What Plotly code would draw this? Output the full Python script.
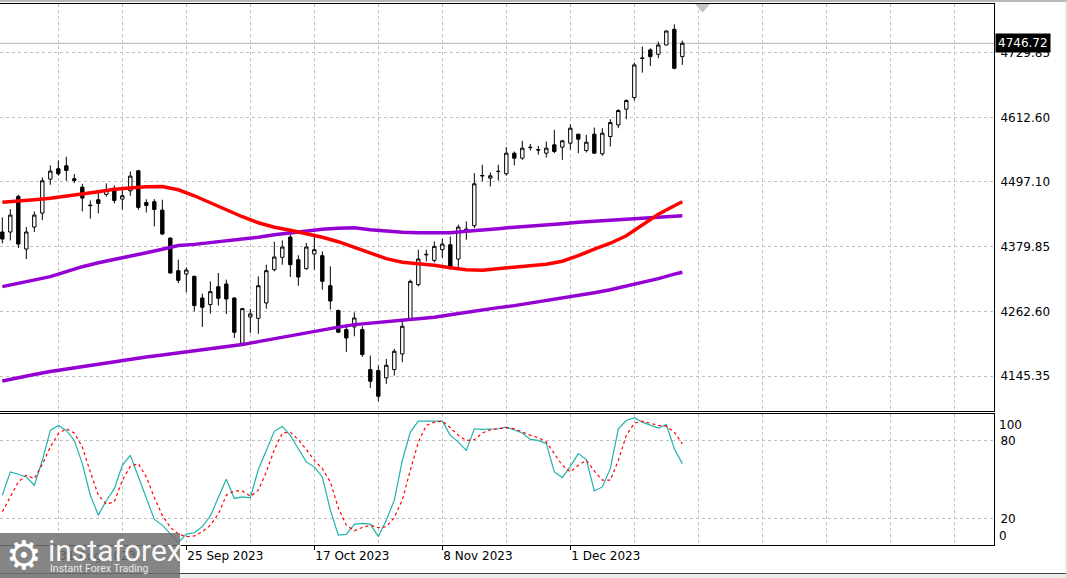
import datetime
import plotly.graph_objects as go

# ---------------- data ----------------
dates = [
    "2023-08-22", "2023-08-23", "2023-08-24", "2023-08-25", "2023-08-28", "2023-08-29", "2023-08-30", "2023-08-31",
    "2023-09-01", "2023-09-05", "2023-09-06", "2023-09-07", "2023-09-08", "2023-09-11", "2023-09-12", "2023-09-13",
    "2023-09-14", "2023-09-15", "2023-09-18", "2023-09-19", "2023-09-20", "2023-09-21", "2023-09-22", "2023-09-25",
    "2023-09-26", "2023-09-27", "2023-09-28", "2023-09-29",
    "2023-10-02", "2023-10-03", "2023-10-04", "2023-10-05", "2023-10-06", "2023-10-09", "2023-10-10", "2023-10-11",
    "2023-10-12", "2023-10-13", "2023-10-16", "2023-10-17", "2023-10-18", "2023-10-19", "2023-10-20", "2023-10-23",
    "2023-10-24", "2023-10-25", "2023-10-26", "2023-10-27", "2023-10-30", "2023-10-31",
    "2023-11-01", "2023-11-02", "2023-11-03", "2023-11-06", "2023-11-07", "2023-11-08", "2023-11-09", "2023-11-10",
    "2023-11-13", "2023-11-14", "2023-11-15", "2023-11-16", "2023-11-17", "2023-11-20", "2023-11-21", "2023-11-22",
    "2023-11-24", "2023-11-27", "2023-11-28", "2023-11-29", "2023-11-30",
    "2023-12-01", "2023-12-04", "2023-12-05", "2023-12-06", "2023-12-07", "2023-12-08", "2023-12-11", "2023-12-12",
    "2023-12-13", "2023-12-14", "2023-12-15", "2023-12-18", "2023-12-19", "2023-12-20", "2023-12-21",
]

opens = [
    4405.8, 4405.8, 4470.1, 4375.1, 4414.8, 4440.0, 4501.4, 4520.0,
    4525.4, 4502.0, 4486.9, 4454.5, 4464.1, 4473.7, 4482.7, 4465.3, 4480.3, 4516.4,
    4459.2, 4460.5, 4445.4, 4394.9, 4336.0, 4330.0, 4325.8, 4286.7, 4274.7, 4307.1,
    4312.0, 4286.7, 4205.0, 4252.4, 4250.0, 4277.7, 4337.8, 4360.1, 4396.7, 4355.8,
    4339.6, 4366.1, 4363.1, 4308.9, 4264.0, 4229.6, 4234.4, 4229.6, 4157.4, 4155.6,
    4142.4, 4157.4, 4185.7, 4249.4, 4310.7, 4364.5, 4354.6, 4373.9, 4382.9, 4357.0,
    4406.9, 4417.2, 4507.0, 4503.2, 4515.0, 4511.0, 4548.2, 4539.2, 4558.2, 4554.6,
    4548.2, 4563.2, 4559.0, 4566.3, 4582.5, 4553.0, 4582.5, 4547.0, 4578.3, 4599.3,
    4627.6, 4648.6, 4719.2, 4734.6, 4726.8, 4743.6, 4771.9, 4722.6,
]
highs = [
    4432.2, 4447.2, 4473.1, 4414.8, 4443.0, 4504.4, 4526.0, 4535.0,
    4541.7, 4510.4, 4492.9, 4462.9, 4477.3, 4493.6, 4489.9, 4480.9, 4515.2, 4518.2,
    4465.0, 4465.3, 4464.1, 4395.5, 4355.9, 4342.0, 4327.0, 4294.5, 4316.8, 4331.8,
    4319.8, 4287.9, 4268.7, 4266.9, 4325.8, 4346.8, 4388.3, 4390.7, 4404.0, 4363.7,
    4385.9, 4397.9, 4370.9, 4343.8, 4265.6, 4238.6, 4260.8, 4235.6, 4182.7, 4164.6,
    4176.6, 4194.7, 4245.8, 4319.8, 4373.9, 4373.9, 4388.9, 4393.7, 4397.9, 4419.0,
    4425.0, 4512.2, 4527.2, 4513.4, 4527.2, 4559.1, 4551.2, 4570.5, 4565.0, 4561.4,
    4569.2, 4590.3, 4572.2, 4600.5, 4583.0, 4581.3, 4594.5, 4593.3, 4609.5, 4627.6,
    4645.6, 4711.8, 4740.6, 4737.6, 4749.6, 4769.5, 4780.9, 4751.4,
]
lows = [
    4385.3, 4390.7, 4376.9, 4357.1, 4405.8, 4427.4, 4491.1, 4507.4,
    4498.4, 4494.2, 4443.0, 4429.8, 4439.4, 4469.5, 4457.5, 4446.6, 4471.3, 4446.0,
    4441.0, 4416.0, 4400.3, 4330.6, 4313.8, 4296.9, 4262.6, 4234.4, 4258.4, 4272.9,
    4257.8, 4214.5, 4203.0, 4223.6, 4222.0, 4267.5, 4334.8, 4346.8, 4324.6, 4308.9,
    4337.8, 4337.8, 4301.7, 4265.6, 4223.6, 4189.3, 4217.5, 4180.3, 4124.3, 4100.3,
    4131.5, 4146.6, 4170.6, 4247.6, 4307.7, 4352.8, 4351.0, 4358.8, 4337.8, 4340.8,
    4391.9, 4413.0, 4497.1, 4488.1, 4498.9, 4507.4, 4526.0, 4536.2, 4553.0, 4545.2,
    4540.4, 4548.2, 4536.2, 4554.3, 4548.2, 4549.4, 4547.5, 4543.4, 4560.3, 4593.3,
    4609.5, 4643.2, 4693.7, 4705.7, 4719.6, 4743.0, 4699.8, 4707.6,
]
closes = [
    4393.1, 4436.4, 4384.1, 4405.8, 4436.4, 4498.4, 4515.8, 4511.0,
    4517.0, 4499.0, 4467.1, 4453.5, 4457.5, 4480.9, 4462.9, 4471.3, 4506.8, 4450.3,
    4453.8, 4446.6, 4402.2, 4331.8, 4318.6, 4337.2, 4272.9, 4269.9, 4298.1, 4286.1,
    4284.9, 4224.8, 4267.5, 4257.8, 4308.9, 4336.0, 4360.7, 4378.7, 4346.8, 4324.6,
    4378.7, 4373.9, 4316.8, 4281.3, 4225.0, 4214.5, 4250.6, 4184.5, 4136.4, 4109.3,
    4165.2, 4190.5, 4235.6, 4316.7, 4357.0, 4365.5, 4379.9, 4384.1, 4343.8, 4414.8,
    4411.2, 4492.9, 4507.8, 4507.4, 4515.4, 4548.2, 4539.2, 4557.2, 4558.8, 4554.0,
    4557.2, 4551.2, 4570.5, 4593.3, 4573.5, 4568.0, 4548.2, 4584.3, 4603.5, 4625.2,
    4643.3, 4707.6, 4720.0, 4722.6, 4743.6, 4768.9, 4701.5, 4746.72,
]

# moving averages, read every second bar (plus the last bar)
ma_red = [
    4459.6, 4461.4, 4464.1, 4466.8, 4470.4, 4474.0, 4478.5, 4483.0, 4485.7, 4487.5, 4488.1,
    4482.1, 4471.3, 4458.7, 4446.1, 4433.4, 4422.6, 4414.5, 4409.1, 4402.8, 4396.4, 4388.3,
    4378.4, 4367.6, 4357.7, 4351.3, 4348.6, 4345.9, 4341.4, 4337.8, 4336.9, 4339.6, 4343.2,
    4345.0, 4347.7, 4353.1, 4363.0, 4374.8, 4385.6, 4399.1, 4419.0, 4437.9, 4453.3, 4460.5,
]
ma_purple_fast = [
    4307.2, 4313.5, 4319.8, 4325.2, 4334.2, 4343.2, 4350.4, 4355.9, 4362.2, 4368.5, 4374.8,
    4381.5, 4383.5, 4386.5, 4389.2, 4392.3, 4396.4, 4400.9, 4404.6, 4408.2, 4410.9, 4412.7,
    4413.6, 4410.0, 4407.3, 4405.5, 4404.6, 4404.0, 4404.6, 4407.3, 4409.1, 4411.8, 4414.5,
    4416.3, 4419.0, 4420.8, 4423.5, 4425.3, 4427.1, 4428.9, 4429.8, 4431.6, 4434.3, 4435.2,
]
ma_purple_slow = [
    4136.7, 4143.0, 4148.4, 4153.8, 4158.3, 4161.9, 4166.5, 4171.9, 4176.4, 4180.0, 4183.6,
    4187.2, 4190.8, 4194.4, 4198.0, 4202.5, 4207.9, 4213.4, 4218.8, 4224.2, 4229.6, 4234.1,
    4238.6, 4241.3, 4243.1, 4245.8, 4248.5, 4252.1, 4256.6, 4261.2, 4265.7, 4269.3, 4272.9,
    4277.4, 4281.9, 4286.4, 4291.0, 4296.3, 4301.7, 4308.1, 4314.4, 4321.6, 4329.7, 4333.3,
]

stoch_k = [
    37.9, 55.9, 54.1, 52.0, 45.6, 64.8, 87.9, 91.8,
    87.9, 80.2, 62.3, 37.9, 22.5, 33.6, 43.0, 61.0, 68.7, 52.0,
    36.1, 19.2, 14.8, 8.4, 1.3, 7.9, 8.9, 13.6, 21.8, 36.1,
    50.2, 35.4, 36.6, 35.9, 57.7, 72.5, 87.4, 91.0, 84.1, 73.8,
    63.6, 59.7, 52.0, 26.4, 7.1, 7.7, 15.4, 16.1, 15.6, 5.9,
    18.7, 34.1, 64.8, 86.6, 95.1, 95.1, 95.1, 95.1, 84.1, 78.9,
    72.5, 89.2, 88.7, 89.2, 89.2, 90.5, 87.9, 85.9, 81.0, 80.2,
    77.7, 55.9, 51.5, 60.2, 70.0, 65.4, 41.2, 44.3, 58.4, 89.2,
    95.6, 97.7, 94.3, 91.8, 89.7, 92.5, 73.8, 62.3,
]
stoch_d = [
    25.1, 36.1, 48.2, 53.3, 50.7, 61.8, 75.1, 85.4,
    89.2, 85.9, 75.1, 55.9, 37.9, 31.0, 32.8, 49.5, 60.2, 62.3,
    52.0, 36.1, 22.5, 13.0, 7.9, 5.9, 6.4, 9.7, 14.8, 23.3,
    37.9, 41.2, 41.2, 37.1, 41.8, 55.9, 73.0, 85.9, 86.6, 80.7,
    73.3, 64.8, 58.4, 48.2, 28.0, 14.8, 10.5, 13.0, 14.8, 12.8,
    13.6, 20.7, 34.1, 57.2, 78.9, 91.8, 94.3, 95.1, 90.0, 84.1,
    80.2, 80.7, 85.9, 88.4, 89.2, 90.0, 89.2, 86.6, 84.1, 82.3,
    79.0, 70.0, 61.0, 55.9, 61.0, 64.8, 56.6, 49.5, 49.5, 64.8,
    84.1, 93.5, 95.1, 93.5, 91.8, 91.2, 86.6, 77.7,
]

price_ticks = [4145.35, 4262.60, 4379.85, 4497.10, 4612.60, 4729.85]
stoch_ticks = [80, 20]
stoch_edges = [100, 0]
date_ticks = ["2023-08-31", "2023-09-25", "2023-10-17", "2023-11-08", "2023-12-01"]

# ---------------- figure ----------------
idx = list(range(len(dates)))
ma_idx = idx[::2] + [idx[-1]]

def fmt_date(s):
    d = datetime.date.fromisoformat(s)
    return f"{d.day} {d:%b %Y}"

tick_pos = [dates.index(d) for d in date_ticks]
tick_txt = [fmt_date(d) for d in date_ticks]

FONT = "DejaVu Sans"
GC = "#c0c0c0"
GD = "3px,3px"
W, H = 1067, 578
ML, MR, MT, MB = 0, 73, 4, 33
PW = W - ML - MR
PH = H - MT - MB

def px(x):
    return (x - ML) / PW

def py(y):
    return (H - MB - y) / PH

fig = go.Figure()
fig.add_trace(go.Candlestick(
    x=idx, open=opens, high=highs, low=lows, close=closes,
    increasing=dict(line=dict(color="black", width=1), fillcolor="white"),
    decreasing=dict(line=dict(color="black", width=1), fillcolor="black"),
    whiskerwidth=0, showlegend=False, xaxis="x", yaxis="y",
))
fig.add_trace(go.Scatter(x=ma_idx, y=ma_purple_slow, mode="lines",
                         line=dict(color="#9400D3", width=3.5), showlegend=False, xaxis="x", yaxis="y"))
fig.add_trace(go.Scatter(x=ma_idx, y=ma_purple_fast, mode="lines",
                         line=dict(color="#9400D3", width=3.5), showlegend=False, xaxis="x", yaxis="y"))
fig.add_trace(go.Scatter(x=ma_idx, y=ma_red, mode="lines",
                         line=dict(color="#FF0000", width=3.5), showlegend=False, xaxis="x", yaxis="y"))
fig.add_trace(go.Scatter(x=idx, y=stoch_k, mode="lines",
                         line=dict(color="#20B2AA", width=1.2), showlegend=False, xaxis="x2", yaxis="y2"))
fig.add_trace(go.Scatter(x=idx, y=stoch_d, mode="lines",
                         line=dict(color="#FF0000", width=1.2, dash="3px,3px"), showlegend=False,
                         xaxis="x2", yaxis="y2"))

xr = [-0.29, 123.96]
common_x = dict(
    range=xr, tickmode="array", tickvals=tick_pos,
    showgrid=True, gridcolor=GC, griddash=GD, gridwidth=1,
    minor=dict(tickmode="linear", tick0=tick_pos[0], dtick=8, showgrid=True,
               gridcolor=GC, griddash=GD, gridwidth=1, ticks=""),
    zeroline=False, showline=True, mirror=True, linecolor="black", linewidth=1,
    fixedrange=True,
)
main_bottom = py(411.0)
stoch_top = py(414.0)

fig.update_layout(
    width=W, height=H,
    margin=dict(l=ML, r=MR, t=MT, b=MB, pad=0),
    paper_bgcolor="white", plot_bgcolor="white",
    boxgap=0.4,
    showlegend=False,
    font=dict(family=FONT, size=12, color="black"),
    xaxis=dict(**common_x, anchor="y", showticklabels=False, ticks="",
               rangeslider=dict(visible=False)),
    xaxis2=dict(**common_x, anchor="y2", matches="x", ticktext=tick_txt,
                ticks="outside", ticklen=4, tickcolor="black",
                ticklabelposition="outside right",
                tickfont=dict(family=FONT, size=12, color="black")),
    yaxis=dict(domain=[main_bottom, 1], anchor="x", side="right",
               range=[4082.6, 4817.6], tickmode="array", tickvals=price_ticks,
               ticktext=[f"{v:.2f}" for v in price_ticks],
               showgrid=True, gridcolor=GC, griddash=GD, gridwidth=1,
               showline=True, linecolor="black", linewidth=1, ticks="",
               ticklabelstandoff=3, zeroline=False, fixedrange=True,
               tickfont=dict(family=FONT, size=12, color="black")),
    yaxis2=dict(domain=[0, stoch_top], anchor="x2", side="right",
                range=[-0.54, 100.6], tickmode="array", tickvals=stoch_ticks,
                ticktext=[str(v) for v in stoch_ticks],
                showgrid=True, gridcolor=GC, griddash=GD, gridwidth=1,
                showline=True, linecolor="black", linewidth=1, ticks="",
                ticklabelstandoff=3, zeroline=False, fixedrange=True,
                tickfont=dict(family=FONT, size=12, color="black")),
)

# stochastic edge labels (100 / 0 drawn inside the panel like the terminal does)
for v, shift in zip(stoch_edges, [-10, 8]):
    fig.add_annotation(x=1, xref="paper", xanchor="left", xshift=3,
                       y=v, yref="y2", yshift=shift, yanchor="middle",
                       text=str(v), showarrow=False,
                       font=dict(family=FONT, size=12, color="black"))

# current price line and label
last = closes[-1]
fig.add_shape(type="line", xref="paper", x0=0, x1=1, yref="y", y0=last, y1=last,
              line=dict(color="#b4b4b4", width=1), layer="below")
fig.add_annotation(x=1, xref="paper", xanchor="left", xshift=1,
                   y=last, yref="y", yanchor="middle",
                   text=f"{last:.2f}", showarrow=False, bgcolor="black", borderpad=2,
                   font=dict(family=FONT, size=12, color="white"))

# chart shift marker at the top
fig.add_shape(type="path", xref="paper", yref="paper",
              path=f"M {px(695)},{py(4)} L {px(710)},{py(4)} L {px(702.5)},{py(12.7)} Z",
              fillcolor="#c4c4c4", line=dict(width=0))

# window chrome: top stripe, bottom bar, right edge
fig.add_shape(type="line", xref="paper", yref="paper", x0=px(0), x1=px(W), y0=py(1), y1=py(1),
              line=dict(color="#b8b8b8", width=2))
fig.add_shape(type="rect", xref="paper", yref="paper", x0=px(0), x1=px(W), y0=py(578), y1=py(574),
              fillcolor="#ececec", line=dict(width=0))
fig.add_shape(type="line", xref="paper", yref="paper", x0=px(0), x1=px(W), y0=py(573.5), y1=py(573.5),
              line=dict(color="#404040", width=1))
fig.add_shape(type="line", xref="paper", yref="paper", x0=px(1066), x1=px(1066), y0=py(0), y1=py(578),
              line=dict(color="#d0d0d0", width=1))

# watermark logo box
fig.add_shape(type="rect", xref="paper", yref="paper", x0=px(0), x1=px(180), y0=py(578), y1=py(533),
              fillcolor="rgba(112,112,112,0.85)", line=dict(width=0), layer="above")
fig.add_annotation(x=px(24), y=py(555), xref="paper", yref="paper", xanchor="center", yanchor="middle",
                   text="⚙", showarrow=False, font=dict(family="DejaVu Sans", size=40, color="white"))
fig.add_annotation(x=px(46), y=py(550), xref="paper", yref="paper", xanchor="left", yanchor="middle",
                   text="instaforex", showarrow=False,
                   font=dict(family="Roboto", size=30, color="rgba(255,255,255,0.95)"))
fig.add_annotation(x=px(48), y=py(568), xref="paper", yref="paper", xanchor="left", yanchor="middle",
                   text="Instant Forex Trading", showarrow=False,
                   font=dict(family="Roboto", size=10.5, color="rgba(255,255,255,0.85)"))

fig.write_html("out.html")
